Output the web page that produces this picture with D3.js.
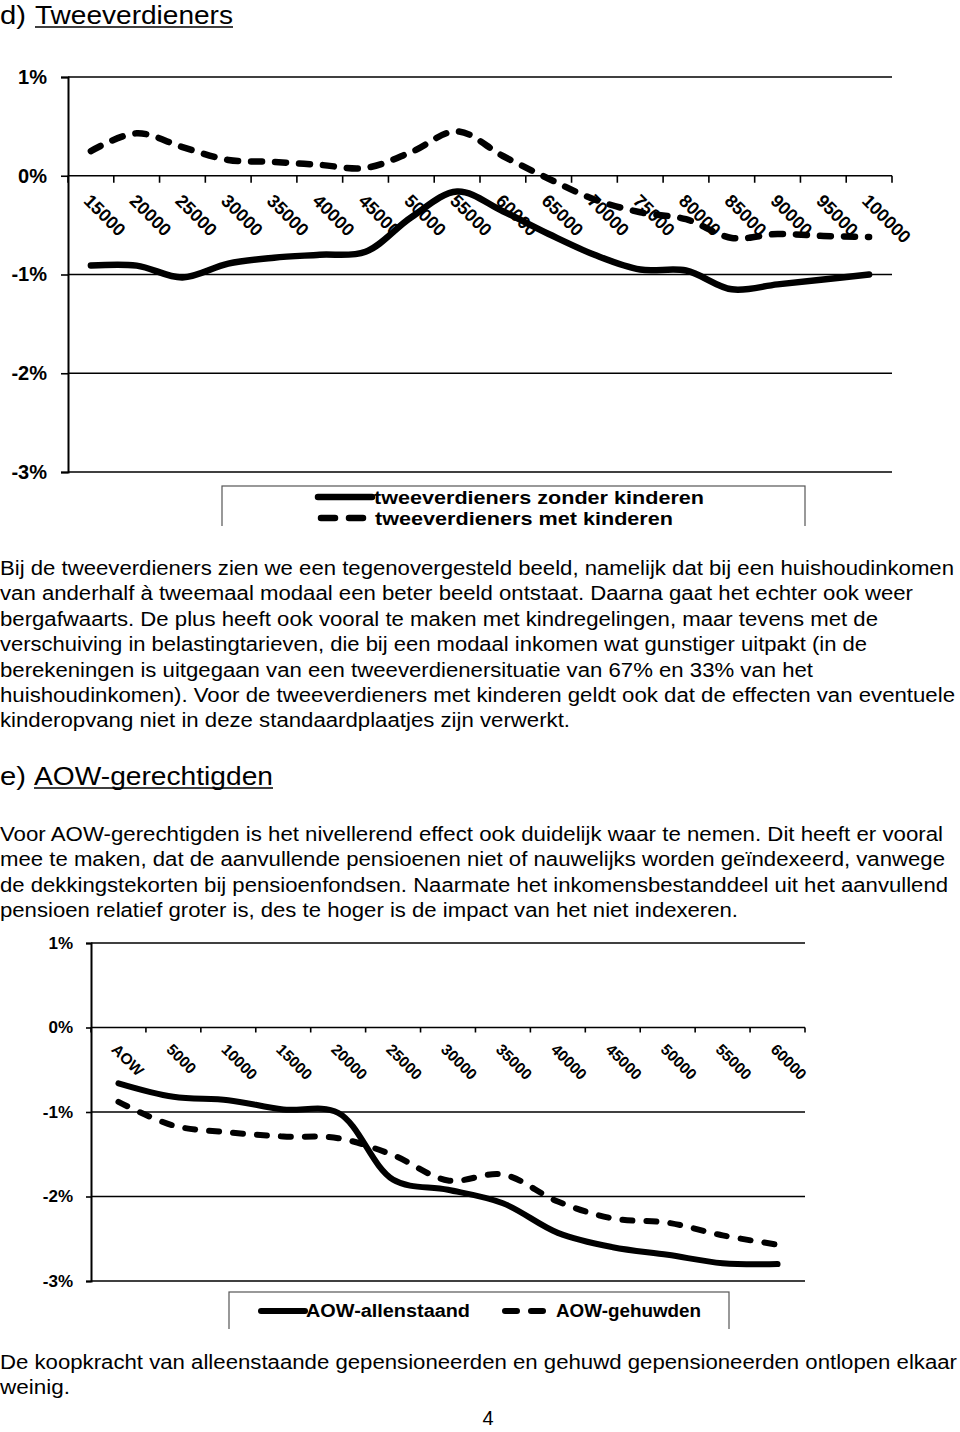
<!DOCTYPE html>
<html>
<head>
<meta charset="utf-8">
<script src="https://cdn.jsdelivr.net/npm/d3@7"></script>
<style>
  html, body { margin: 0; padding: 0; background: #fff; }
  svg { display: block; }
  text { font-family: "Liberation Sans", Arial, Helvetica, sans-serif; fill: #000; }
</style>
</head>
<body>
<svg id="page" width="960" height="1432"></svg>
<script>
// ---------- DATA ----------
const topCategories = ["15000","20000","25000","30000","35000","40000","45000","50000","55000","60000","65000","70000","75000","80000","85000","90000","95000","100000"];
const topZonderKinderen = [-0.91,-0.91,-1.03,-0.89,-0.83,-0.80,-0.77,-0.42,-0.16,-0.36,-0.59,-0.80,-0.95,-0.96,-1.15,-1.10,-1.05,-1.00];
const topMetKinderen    = [0.25,0.43,0.29,0.16,0.14,0.11,0.08,0.24,0.45,0.20,-0.03,-0.24,-0.37,-0.44,-0.63,-0.59,-0.61,-0.62];
const topSeriesNames = ["tweeverdieners zonder kinderen","tweeverdieners met kinderen"];

const botCategories = ["AOW","5000","10000","15000","20000","25000","30000","35000","40000","45000","50000","55000","60000"];
const botAllenstaand = [-0.66,-0.82,-0.86,-0.97,-1.01,-1.80,-1.92,-2.08,-2.43,-2.60,-2.69,-2.79,-2.80];
const botGehuwden    = [-0.88,-1.16,-1.24,-1.29,-1.31,-1.51,-1.81,-1.74,-2.06,-2.26,-2.31,-2.46,-2.57];
const botSeriesNames = ["AOW-allenstaand","AOW-gehuwden"];

const yTickValues = [1,0,-1,-2,-3];
const yTickLabels = ["1%","0%","-1%","-2%","-3%"];

const textTop = [
  ["Bij de tweeverdieners zien we een tegenovergesteld beeld, namelijk dat bij een huishoudinkomen", 954],
  ["van anderhalf à tweemaal modaal een beter beeld ontstaat. Daarna gaat het echter ook weer", 913],
  ["bergafwaarts. De plus heeft ook vooral te maken met kindregelingen, maar tevens met de", 878],
  ["verschuiving in belastingtarieven, die bij een modaal inkomen wat gunstiger uitpakt (in de", 867],
  ["berekeningen is uitgegaan van een tweeverdienersituatie van 67% en 33% van het", 813],
  ["huishoudinkomen). Voor de tweeverdieners met kinderen geldt ook dat de effecten van eventuele", 955],
  ["kinderopvang niet in deze standaardplaatjes zijn verwerkt.", 570]
];
const textMid = [
  ["Voor AOW-gerechtigden is het nivellerend effect ook duidelijk waar te nemen. Dit heeft er vooral", 943],
  ["mee te maken, dat de aanvullende pensioenen niet of nauwelijks worden geïndexeerd, vanwege", 945],
  ["de dekkingstekorten bij pensioenfondsen. Naarmate het inkomensbestanddeel uit het aanvullend", 948],
  ["pensioen relatief groter is, des te hoger is de impact van het niet indexeren.", 738]
];
const textBottom = [
  ["De koopkracht van alleenstaande gepensioneerden en gehuwd gepensioneerden ontlopen elkaar", 957],
  ["weinig.", 70]
];

// ---------- DRAW ----------
const svg = d3.select("#page");

function paragraph(lines, y0, lh, fs) {
  lines.forEach((l, i) => {
    const t = svg.append("text").attr("x", 0).attr("y", y0 + i * lh)
      .attr("font-size", fs).text(l[0]);
    if (l[1]) t.attr("textLength", l[1]).attr("lengthAdjust", "spacingAndGlyphs");
  });
}

function heading(prefix, word, y, x1, x2) {
  svg.append("text").attr("x", 0).attr("y", y).attr("font-size", 26)
    .attr("textLength", 26).attr("lengthAdjust", "spacingAndGlyphs").text(prefix);
  svg.append("text").attr("x", x1).attr("y", y).attr("font-size", 26)
    .attr("textLength", x2 - x1).attr("lengthAdjust", "spacingAndGlyphs").text(word);
  svg.append("line").attr("x1", x1).attr("x2", x2).attr("y1", y + 3).attr("y2", y + 3)
    .attr("stroke", "#000").attr("stroke-width", 1.6);
}

heading("d)", "Tweeverdieners", 24, 35, 233);
paragraph(textTop, 575, 25.4, 20);
heading("e)", "AOW-gerechtigden", 785, 34, 273);
paragraph(textMid, 841, 25.4, 20);
paragraph(textBottom, 1369, 25, 20);
svg.append("text").attr("x", 488).attr("y", 1425).attr("font-size", 20)
  .attr("text-anchor", "middle").text("4");

function chart(cfg) {
  const g = svg.append("g");
  if (cfg.clipBottom) {
    const id = "clip" + cfg.id;
    svg.append("clipPath").attr("id", id).append("rect")
      .attr("x", 0).attr("y", cfg.y1 - 20).attr("width", 960).attr("height", cfg.clipBottom - cfg.y1 + 20);
    g.attr("clip-path", `url(#${id})`);
  }
  const x = d3.scaleBand().domain(cfg.cats).range([cfg.x0, cfg.x1]);
  const y = d3.scaleLinear().domain([-3, 1]).range([cfg.y0, cfg.y1]);

  // gridlines
  g.selectAll(".grid").data(yTickValues).join("line")
    .attr("x1", cfg.x0).attr("x2", cfg.x1)
    .attr("y1", d => y(d)).attr("y2", d => y(d))
    .attr("stroke", "#000").attr("stroke-width", 1.6);

  // y axis
  const yAxis = d3.axisLeft(y).tickValues(yTickValues).tickSize(cfg.yTick)
    .tickFormat((d, i) => yTickLabels[i]).tickPadding(cfg.yPad);
  const ya = g.append("g").attr("transform", `translate(${cfg.x0},0)`).call(yAxis);
  ya.select(".domain").attr("stroke", "#000").attr("stroke-width", 2);
  ya.selectAll(".tick line").attr("stroke", "#000").attr("stroke-width", 1.6);
  ya.selectAll(".tick text").attr("font-size", cfg.yFont).attr("font-weight", "bold")
    .attr("font-family", '"Liberation Sans", Arial, sans-serif').attr("fill", "#000");

  // x ticks at category boundaries on the 0% line
  const bounds = cfg.cats.map(c => x(c)).concat([cfg.x1]);
  g.selectAll(".xt").data(bounds).join("line")
    .attr("x1", d => d).attr("x2", d => d)
    .attr("y1", y(0)).attr("y2", y(0) + cfg.xTick)
    .attr("stroke", "#000").attr("stroke-width", 1.6);

  // category labels
  g.selectAll(".xl").data(cfg.cats).join("text")
    .attr("transform", d => `translate(${x(d) + x.bandwidth() / 2 + cfg.lblDx},${y(0) + cfg.lblDy}) rotate(45)`)
    .attr("dy", "0.72em")
    .attr("font-size", cfg.xFont).attr("font-weight", "bold")
    .text(d => d);

  // lines
  const line = d3.line()
    .x((d, i) => x(cfg.cats[i]) + x.bandwidth() / 2)
    .y(d => y(d))
    .curve(d3.curveCatmullRom.alpha(0.5));
  g.append("path").datum(cfg.s1).attr("d", line)
    .attr("fill", "none").attr("stroke", "#000").attr("stroke-width", cfg.lw)
    .attr("stroke-linecap", "round").attr("stroke-linejoin", "round");
  g.append("path").datum(cfg.s2).attr("d", line)
    .attr("fill", "none").attr("stroke", "#000").attr("stroke-width", cfg.lw)
    .attr("stroke-dasharray", cfg.dash).attr("stroke-linecap", "round");

  // legend
  const L = cfg.legend;
  g.append("rect").attr("x", L.x0).attr("y", L.y0).attr("width", L.x1 - L.x0).attr("height", L.h)
    .attr("fill", "#fff").attr("stroke", "#555").attr("stroke-width", 1.2);
  L.items.forEach((it, i) => {
    g.append("line").attr("x1", it.sx0).attr("x2", it.sx1).attr("y1", it.sy).attr("y2", it.sy)
      .attr("stroke", "#000").attr("stroke-width", cfg.lw)
      .attr("stroke-dasharray", i === 0 ? null : L.dash)
      .attr("stroke-linecap", "round");
    g.append("text").attr("x", it.tx).attr("y", it.ty)
      .attr("font-size", L.font).attr("font-weight", "bold")
      .attr("textLength", it.tw).attr("lengthAdjust", "spacingAndGlyphs")
      .text(cfg.names[i]);
  });
}

chart({
  id: "top", cats: topCategories, s1: topZonderKinderen, s2: topMetKinderen, names: topSeriesNames,
  x0: 68, x1: 892, y0: 472, y1: 77, yTick: 7, yPad: 14, yFont: 20, xTick: 7, xFont: 18,
  lblDx: 1, lblDy: 17, lw: 6.5, dash: "11,13", clipBottom: 526,
  legend: { x0: 222, x1: 805, y0: 486, h: 80, font: 19, dash: "14,14",
    items: [
      { sx0: 318, sx1: 372, sy: 497, tx: 374, ty: 504, tw: 330 },
      { sx0: 321, sx1: 363, sy: 518, tx: 375, ty: 525, tw: 298 }
    ] }
});

chart({
  id: "bot", cats: botCategories, s1: botAllenstaand, s2: botGehuwden, names: botSeriesNames,
  x0: 91, x1: 805, y0: 1281, y1: 943, yTick: 5, yPad: 13, yFont: 17, xTick: 5, xFont: 15.5,
  lblDx: 0, lblDy: 15, lw: 6, dash: "10,14", clipBottom: 1329,
  legend: { x0: 229, x1: 729, y0: 1292, h: 60, font: 18, dash: "12,14",
    items: [
      { sx0: 261, sx1: 305, sy: 1311, tx: 306, ty: 1317, tw: 164 },
      { sx0: 505, sx1: 543, sy: 1311, tx: 556, ty: 1317, tw: 145 }
    ] }
});
</script>
</body>
</html>
